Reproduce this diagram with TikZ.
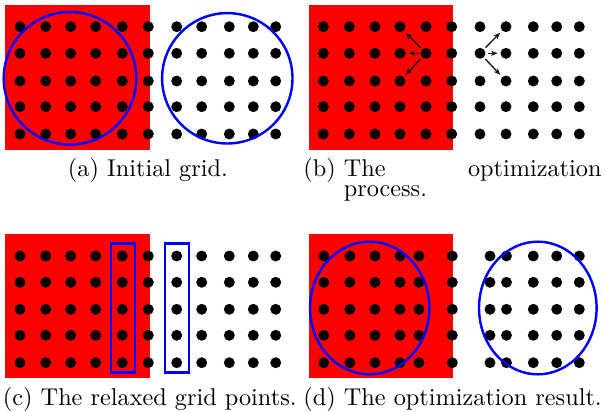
\documentclass[tikz,border=0pt]{standalone}
\usetikzlibrary{arrows.meta}
\begin{document}
\begin{tikzpicture}[x=0.412pt,y=-0.412pt,
  dot/.style={circle,fill=black,draw=none,inner sep=0pt,minimum size=4.5pt},
  redbg/.style={fill=red,draw=none},
  blueline/.style={draw=blue,line width=1pt},
  moveto/.style={-{Stealth[length=2.8pt,width=2.2pt]},line width=0.55pt,black!90,shorten <=0.8pt,shorten >=1pt},
  captxt/.style={anchor=base west,inner sep=0pt,font=\fontsize{10}{12}\selectfont}]
\useasboundingbox (0,0) rectangle (605,412);
% red backgrounds
\fill[redbg] (5,5) rectangle (149.5,150);
\fill[redbg] (309,5) rectangle (452.7,150);
\fill[redbg] (5,233.8) rectangle (149.5,378);
\fill[redbg] (309,233.8) rectangle (452.7,378);
% column and row positions
\def\colsA{20,45.7,70.7,95.7,122.3,148.3,176.7,201.7,229.3,253.3,275.7}
\def\colsB{323.3,349.3,375,400,426,451.7,480,506,533.3,556.7,579.3}
\def\colsD{323.8,349.8,375,400,419,452.3,490,506.5,533.3,556.7,579.3}
\def\rowsT{26.7,53.3,81,106.7,134}
\def\rowsB{256,282.3,309.3,335.3,362.7}
% dots
\foreach \x [count=\i] in \colsA {
  \foreach \y [count=\j] in \rowsT { \node[dot] (a-\i-\j) at (\x,\y) {}; }
  \foreach \y [count=\j] in \rowsB { \node[dot] (c-\i-\j) at (\x,\y) {}; }
}
\foreach \x [count=\i] in \colsB {
  \foreach \y [count=\j] in \rowsT { \node[dot] (b-\i-\j) at (\x,\y) {}; }
}
\foreach \x [count=\i] in \colsD {
  \foreach \y [count=\j] in \rowsB { \node[dot] (d-\i-\j) at (\x,\y) {}; }
}
% (a) circles
\draw[blueline] (70,78.3) circle [radius=66.3];
\draw[blueline] (227.3,78.3) circle [radius=65.2];
% (b) arrows
\draw[moveto] (b-5-2) -- (b-4-1);
\draw[moveto] (b-5-2) -- (b-4-2);
\draw[moveto] (b-5-2) -- (b-4-3);
\draw[moveto] (b-7-2) -- (b-8-1);
\draw[moveto] (b-7-2) -- (b-8-2);
\draw[moveto] (b-7-2) -- (b-8-3);
% (c) rectangles
\draw[blueline] (111,243.3) rectangle (135,372.7);
\draw[blueline] (165,243.3) rectangle (189,372.7);
% (d) ellipses
\draw[blueline] (369.7,308) ellipse [x radius=59.7, y radius=66.3];
\draw[blueline] (537.8,308) ellipse [x radius=58.8, y radius=66.3];
% captions
\node[captxt] (capa) at (67.5,176.5) {(a) Initial grid.};
\node[captxt] (capb1) at (303,176.5) {(b) The};
\node[captxt,anchor=base east] (capb2) at (602,176.5) {optimization};
\node[captxt] (capb3) at (343.3,197) {process.};
\node[captxt] (capc) at (2.5,405) {(c) The relaxed grid points.};
\node[captxt] (capd) at (303,405) {(d) The optimization result.};
\end{tikzpicture}
\end{document}
